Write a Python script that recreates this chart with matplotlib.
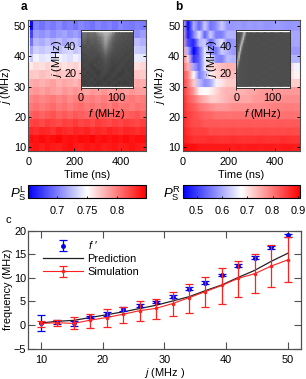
#!/usr/bin/env python3
import numpy as np
import matplotlib
matplotlib.use('Agg')
import matplotlib.pyplot as plt

plt.rcParams['font.family'] = ['Liberation Sans', 'DejaVu Sans']
plt.rcParams['font.size'] = 7.9
plt.rcParams['mathtext.fontset'] = 'custom'
plt.rcParams['mathtext.rm'] = 'Liberation Sans'
plt.rcParams['mathtext.it'] = 'Liberation Sans:italic'
plt.rcParams['mathtext.bf'] = 'Liberation Sans:bold'

W, H = 306, 379
GRAY = '#505050'

j_vals = [10, 12.67, 15.33, 18, 20.67, 23.33, 26, 28.67, 31.33, 34, 36.67, 39.33, 42, 44.67, 47.33, 50]
j_edges = [8.55, 11.33, 14, 16.67, 19.33, 22, 24.67, 27.33, 30, 32.67, 35.33, 38, 40.67, 43.33, 46, 48.67, 52]

# P_S^L, rows j = 10..50
p_left = [
    [.836,.838,.840,.836,.841,.838,.836,.840,.843,.838,.836,.840,.838,.841,.836,.838,.840,.836,.838,.841,.838,.836],
    [.838,.843,.841,.844,.840,.843,.845,.841,.843,.840,.844,.842,.846,.841,.843,.840,.843,.841,.844,.840,.842,.843],
    [.828,.833,.830,.834,.832,.829,.835,.832,.830,.834,.832,.835,.830,.833,.831,.835,.832,.830,.834,.832,.829,.833],
    [.816,.822,.824,.820,.825,.822,.819,.824,.822,.826,.821,.823,.820,.825,.822,.819,.824,.821,.825,.822,.820,.824],
    [.806,.811,.814,.810,.813,.816,.811,.814,.810,.815,.812,.809,.814,.811,.815,.812,.810,.814,.811,.813,.816,.811],
    [.796,.802,.805,.801,.804,.807,.802,.805,.800,.804,.807,.802,.805,.801,.804,.800,.806,.802,.804,.801,.805,.803],
    [.790,.797,.800,.796,.799,.802,.797,.800,.795,.799,.802,.797,.800,.796,.800,.797,.801,.796,.799,.802,.798,.800],
    [.784,.788,.790,.786,.791,.788,.785,.790,.787,.792,.788,.785,.790,.788,.791,.786,.789,.792,.787,.790,.788,.786],
    [.776,.782,.784,.780,.783,.786,.780,.784,.781,.778,.784,.782,.785,.780,.783,.781,.785,.779,.783,.781,.784,.782],
    [.768,.772,.770,.775,.772,.769,.774,.771,.775,.770,.773,.770,.775,.772,.769,.774,.771,.773,.770,.775,.772,.770],
    [.760,.758,.765,.762,.767,.763,.766,.761,.765,.768,.762,.766,.763,.767,.761,.765,.763,.768,.762,.765,.763,.766],
    [.752,.730,.745,.740,.743,.738,.745,.741,.737,.744,.740,.743,.738,.745,.741,.744,.738,.742,.745,.740,.743,.741],
    [.750,.715,.732,.728,.733,.730,.725,.731,.735,.728,.732,.729,.734,.727,.731,.733,.728,.732,.729,.734,.730,.728],
    [.748,.695,.722,.718,.724,.720,.725,.717,.722,.726,.719,.723,.720,.725,.718,.722,.720,.724,.719,.722,.725,.720],
    [.745,.678,.712,.708,.713,.707,.712,.715,.709,.713,.708,.714,.710,.706,.712,.709,.714,.708,.712,.710,.707,.713],
    [.742,.655,.702,.696,.703,.699,.705,.698,.702,.697,.704,.700,.696,.703,.699,.702,.697,.704,.700,.698,.702,.700],
]

# P_S^R, rows j = 10..50 (columns under the inset are mostly hidden)
p_right = [
    [.908,.897,.897,.885,.885,.885,.885,.885,.885,.880,.885,.880,.885,.885,.880,.885,.885,.880,.885,.885,.880,.885],
    [.885,.874,.862,.862,.862,.865,.862,.860,.862,.865,.862,.860,.862,.862,.865,.860,.862,.862,.865,.862,.860,.862],
    [.885,.862,.851,.851,.851,.839,.842,.839,.840,.842,.839,.840,.842,.839,.840,.842,.839,.840,.839,.842,.840,.839],
    [.874,.851,.839,.839,.827,.827,.827,.825,.827,.827,.825,.827,.827,.825,.827,.828,.825,.827,.827,.825,.827,.827],
    [.874,.851,.839,.827,.816,.816,.804,.806,.804,.804,.806,.804,.804,.806,.804,.804,.806,.804,.804,.806,.804,.804],
    [.874,.839,.827,.804,.793,.781,.770,.770,.770,.781,.781,.781,.783,.781,.783,.785,.789,.793,.793,.795,.793,.793],
    [.874,.827,.804,.770,.746,.723,.723,.735,.746,.758,.758,.758,.758,.770,.770,.773,.775,.777,.781,.781,.781,.781],
    [.862,.816,.770,.689,.677,.689,.712,.735,.746,.746,.746,.746,.758,.758,.770,.770,.770,.770,.770,.770,.770,.770],
    [.851,.804,.723,.619,.573,.596,.665,.700,.723,.723,.723,.723,.723,.723,.723,.723,.723,.723,.723,.723,.723,.723],
    [.839,.793,.677,.561,.608,.689,.712,.723,.735,.735,.735,.735,.735,.735,.735,.735,.735,.735,.735,.735,.689,.689],
    [.816,.746,.596,.538,.654,.712,.723,.735,.746,.746,.746,.746,.746,.746,.746,.746,.746,.746,.746,.746,.665,.665],
    [.793,.712,.492,.538,.654,.665,.573,.561,.620,.610,.608,.608,.608,.608,.608,.608,.608,.608,.608,.608,.608,.608],
    [.758,.608,.446,.538,.654,.584,.550,.631,.610,.584,.584,.584,.584,.584,.584,.584,.584,.584,.584,.584,.584,.584],
    [.746,.515,.480,.608,.631,.538,.608,.654,.573,.584,.590,.590,.590,.590,.590,.590,.590,.590,.590,.590,.596,.596],
    [.723,.469,.561,.654,.538,.631,.561,.561,.608,.608,.600,.600,.600,.600,.600,.600,.600,.596,.596,.596,.596,.596],
    [.700,.446,.608,.538,.631,.550,.573,.631,.584,.584,.590,.580,.590,.584,.590,.580,.584,.590,.584,.580,.584,.584],
]

# inset spectra, gray level 0..1
f_left = [0, 10, 20, 30, 40, 50, 60, 70, 80, 90, 100, 110, 120, 130, 140, 150]
spec_left = [
    [.25,.28,.24,.27,.23,.26,.28,.24,.27,.25,.23,.27,.25,.28,.24,.26],
    [.27,.24,.28,.25,.28,.23,.26,.28,.24,.27,.28,.24,.26,.23,.27,.25],
    [.24,.27,.25,.29,.24,.27,.25,.23,.28,.25,.24,.28,.25,.27,.24,.28],
    [.28,.25,.27,.24,.28,.25,.29,.26,.24,.28,.26,.23,.27,.25,.28,.24],
    [.25,.29,.24,.28,.26,.23,.28,.29,.26,.25,.28,.25,.24,.28,.26,.25],
    [.27,.25,.30,.26,.24,.29,.27,.30,.28,.24,.27,.29,.25,.27,.24,.28],
    [.26,.30,.27,.25,.30,.26,.29,.31,.29,.28,.25,.27,.29,.25,.28,.26],
    [.29,.26,.30,.28,.26,.30,.28,.33,.30,.26,.29,.26,.28,.27,.25,.29],
    [.27,.30,.28,.31,.29,.27,.32,.35,.32,.29,.27,.30,.26,.29,.28,.26],
    [.30,.28,.32,.29,.31,.30,.33,.40,.35,.30,.31,.27,.30,.26,.29,.28],
    [.29,.33,.30,.32,.30,.34,.36,.47,.38,.33,.29,.31,.28,.30,.27,.29],
    [.32,.30,.35,.31,.34,.33,.40,.54,.43,.35,.32,.29,.31,.28,.30,.28],
    [.33,.37,.32,.36,.34,.38,.44,.60,.47,.36,.31,.33,.30,.31,.29,.30],
    [.36,.40,.35,.38,.36,.41,.48,.64,.54,.40,.35,.31,.33,.30,.31,.30],
    [.39,.44,.38,.41,.39,.44,.52,.68,.60,.44,.36,.35,.31,.33,.30,.31],
    [.37,.46,.41,.44,.42,.60,.66,.72,.68,.58,.38,.33,.35,.31,.33,.30],
]
f_right = [0, 4, 8, 12, 16, 20, 24, 28, 32, 40, 60, 80, 100, 125, 150]
spec_right = [
    [.33,.33,.32,.32,.31,.31,.31,.31,.31,.31,.30,.31,.30,.31,.30],
    [.34,.33,.33,.32,.31,.31,.31,.31,.31,.30,.31,.30,.31,.30,.31],
    [.35,.34,.33,.32,.31,.31,.31,.31,.30,.31,.30,.31,.30,.31,.30],
    [.38,.35,.33,.32,.31,.31,.31,.31,.31,.30,.31,.30,.31,.30,.31],
    [.46,.37,.33,.32,.31,.31,.31,.31,.31,.31,.30,.31,.30,.31,.30],
    [.62,.40,.33,.32,.31,.31,.31,.31,.31,.30,.31,.30,.31,.30,.31],
    [.42,.66,.35,.32,.31,.31,.31,.31,.31,.31,.30,.31,.30,.31,.30],
    [.35,.72,.42,.33,.32,.31,.31,.31,.31,.30,.31,.30,.31,.30,.31],
    [.33,.44,.76,.35,.32,.31,.31,.31,.31,.31,.30,.31,.30,.31,.30],
    [.33,.36,.78,.44,.33,.31,.31,.31,.31,.30,.31,.30,.31,.30,.31],
    [.32,.34,.50,.78,.34,.32,.31,.31,.31,.31,.30,.31,.30,.31,.30],
    [.32,.33,.36,.82,.48,.33,.31,.31,.31,.30,.31,.30,.31,.30,.31],
    [.32,.33,.34,.46,.82,.37,.32,.31,.31,.31,.30,.31,.30,.31,.30],
    [.32,.32,.33,.36,.62,.72,.34,.32,.31,.30,.31,.30,.31,.30,.31],
    [.31,.32,.32,.34,.40,.82,.50,.33,.31,.31,.30,.31,.30,.31,.30],
    [.31,.32,.32,.33,.35,.50,.82,.40,.32,.31,.31,.30,.31,.30,.31],
]

# panel c
f_prime = [0.5, 0.65, 0.35, 1.7, 2.3, 3.35, 4.1, 4.9, 6.0, 7.7, 9.0, 10.6, 12.6, 14.3, 16.5, 19.0]
f_prime_err = [1.7, 0.4, 0.5, 0.3, 0.4, 0.4, 0.3, 0.3, 0.3, 0.3, 0.3, 0.3, 0.3, 0.3, 0.3, 0.3]
prediction = [0.45, 0.8, 1.0, 1.6, 2.2, 2.8, 3.5, 4.2, 5.1, 6.0, 7.3, 8.5, 10.1, 11.6, 13.5, 15.2]
simulation = [0.35, 0.5, 0.35, 1.05, 1.6, 2.3, 3.05, 3.55, 4.55, 5.8, 7.1, 8.4, 9.9, 10.9, 12.5, 13.8]
sim_low = [-0.35, -0.3, -0.85, -0.7, -0.4, 0.35, 0.8, 1.2, 2.0, 2.6, 3.9, 4.55, 6.0, 6.8, 8.0, 9.2]
sim_high = [0.85, 1.0, 1.65, 2.35, 3.35, 3.8, 5.1, 5.6, 7.1, 8.8, 10.2, 12.0, 13.5, 15.0, 16.9, 18.6]


def px_axes(x0, y0, x1, y1):
    return fig.add_axes([x0 / W, 1 - y1 / H, (x1 - x0) / W, (y1 - y0) / H])


def style_heat(ax):
    ax.set_xlim(0, 510)
    ax.set_ylim(8.55, 52)
    ax.set_xticks([0, 200, 400])
    ax.set_yticks([10, 20, 30, 40, 50])
    ax.tick_params(direction='in', length=2.5, width=0.7, top=True, right=True)
    ax.tick_params(axis='x', pad=4.3)
    ax.tick_params(axis='y', pad=1.5)
    for s in ax.spines.values():
        s.set_color(GRAY)
        s.set_linewidth(0.8)
    ax.set_xlabel('Time (ns)', labelpad=2)
    ax.set_ylabel('$j$ (MHz)', labelpad=0.5)


def inset_panel(rect, freqs, matrix):
    ax = px_axes(*rect)
    ax.pcolormesh(freqs, j_vals, matrix, cmap='gray', vmin=0, vmax=1, shading='gouraud')
    ax.set_xlim(0, 150)
    ax.set_ylim(9, 52)
    ax.set_xticks([0, 50, 100], ['0', '', '100'])
    ax.set_yticks([20, 40])
    ax.tick_params(direction='out', length=1.5, width=0.6, pad=2)
    for s in ax.spines.values():
        s.set_color('#333333')
        s.set_linewidth(0.7)
    ax.set_xlabel('$f$ (MHz)', labelpad=3)
    ax.set_ylabel('$j$ (MHz)', labelpad=0)


def color_bar(rect, mesh, ticks, labels, name):
    cax = px_axes(*rect)
    cb = fig.colorbar(mesh, cax=cax, orientation='horizontal')
    cb.set_ticks(ticks, labels=labels)
    cb.outline.set_linewidth(0.8)
    cax.tick_params(direction='in', length=1.5, width=0.6, pad=6)
    cax.text(-0.015, 0.35, name, transform=cax.transAxes, ha='right', va='center', fontsize=9.5)


fig = plt.figure(figsize=(W / 100, H / 100), dpi=100)

t_left = [0, 8, 22] + list(np.linspace(22, 510, 21)[1:])
t_right = np.linspace(0, 510, 22)

ax_a = px_axes(28.3, 20, 146, 151.5)
mesh_a = ax_a.pcolormesh(t_left, j_edges, p_left, cmap='bwr', vmin=0.652, vmax=0.848, linewidth=0)
style_heat(ax_a)

# each row is flat in j and blends along time only
ax_b = px_axes(182.5, 20, 300, 151.5)
rows_b = np.array(p_right)
for i in range(len(j_vals)):
    mesh_b = ax_b.pcolormesh(t_right, [j_edges[i], j_edges[i + 1]], np.vstack([rows_b[i], rows_b[i]]),
                             cmap='bwr', vmin=0.446, vmax=0.908, shading='gouraud')
style_heat(ax_b)

inset_panel((81, 30, 133.3, 87.7), f_left, spec_left)
inset_panel((236.3, 30, 289.7, 87.7), f_right, spec_right)

color_bar((28.3, 185, 146, 198), mesh_a, [0.7, 0.75, 0.8], ['0.7', '0.75', '0.8'], r'$P_{\mathrm{S}}^{\mathrm{L}}$')
color_bar((183, 185, 300, 198), mesh_b, [0.5, 0.6, 0.7, 0.8, 0.9], ['0.5', '0.6', '0.7', '0.8', '0.9'],
          r'$P_{\mathrm{S}}^{\mathrm{R}}$')

ax_c = px_axes(28.3, 230.6, 300.7, 348.7)
h_sim = ax_c.errorbar(j_vals, simulation,
                      yerr=[np.array(simulation) - np.array(sim_low), np.array(sim_high) - np.array(simulation)],
                      color='#ff2020', lw=0.8, elinewidth=0.9, capsize=2.8, capthick=0.9,
                      marker='o', ms=1.6, zorder=4)
h_f = ax_c.errorbar(j_vals, f_prime, yerr=f_prime_err, color='#0000ee', ls='none', elinewidth=0.9,
                    capsize=2.8, capthick=0.9, marker='o', ms=2.5, zorder=3)
h_pred, = ax_c.plot(j_vals, prediction, color='#222222', lw=0.9, zorder=2)
ax_c.set_xlim(7.95, 52.1)
ax_c.set_ylim(-5, 20)
ax_c.set_xticks([10, 20, 30, 40, 50])
ax_c.set_yticks([-5, 0, 5, 10, 15, 20])
ax_c.tick_params(direction='in', length=5, width=0.8, color=GRAY, top=True, right=True)
ax_c.tick_params(axis='x', pad=4.3)
ax_c.tick_params(axis='y', pad=1.5)
for s in ax_c.spines.values():
    s.set_color(GRAY)
    s.set_linewidth(0.9)
ax_c.set_xlabel('$j$ (MHz )', labelpad=1)
ax_c.set_ylabel('frequency (MHz)', labelpad=0.5)
ax_c.legend([h_f, h_pred, h_sim], ['$f$ \u2032', 'Prediction', 'Simulation'], loc='upper left',
            bbox_to_anchor=(0.02, 1.0), frameon=False, handlelength=3.7, handletextpad=0.4,
            labelspacing=0.25, borderpad=0.3, fontsize=7.9)

fig.text(21 / W, 1 - 7 / H, 'a', fontweight='bold', fontsize=8.5, va='center')
fig.text(175 / W, 1 - 7 / H, 'b', fontweight='bold', fontsize=8.5, va='center')
fig.text(5 / W, 1 - 220 / H, 'c', fontsize=8, va='center')

plt.savefig('out.png', dpi=100)
plt.close()
